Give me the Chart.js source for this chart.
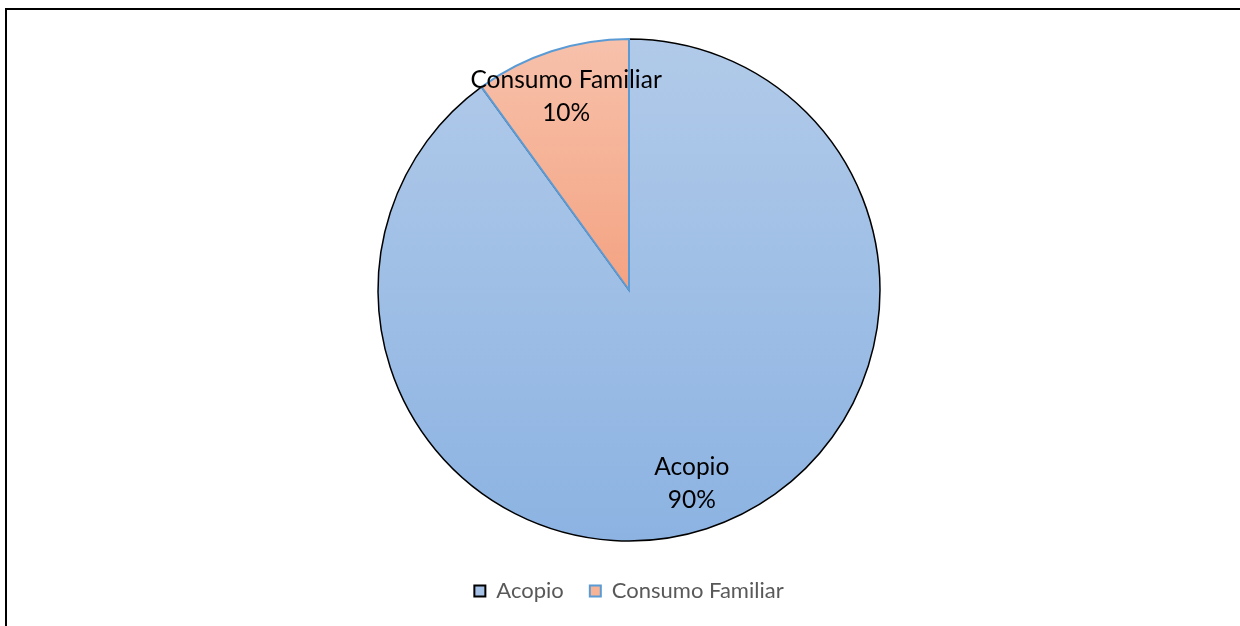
<!DOCTYPE html>
<html>
<head>
<meta charset="utf-8">
<script src="https://cdn.jsdelivr.net/npm/chart.js@4/dist/chart.umd.min.js"></script>
<style>
  html, body { margin: 0; padding: 0; background: #fff; overflow: hidden; }
  #wrap { position: relative; width: 1240px; height: 626px; }
  #frame { position: absolute; left: 5px; top: 8px; width: 1300px; height: 700px; border: 2px solid #000; box-sizing: border-box; pointer-events: none; }
  canvas { position: absolute; left: 0; top: 0; }
</style>
</head>
<body>
<div id="wrap">
  <canvas id="c" width="1240" height="626"></canvas>
  <div id="frame"></div>
</div>
<script>
const categories = ['Acopio', 'Consumo Familiar'];
const values = [90, 10];
const percentLabels = ['90%', '10%'];

const sliceTop = ['#B1CAE9', '#F7C1AB'];
const sliceBottom = ['#8CB3E2', '#F4A382'];
const sliceBorder = ['#000000', '#5B9BD5'];
const sliceBorderWidth = [1.5, 2];
const legendFill = ['#A5C2E6', '#F6B396'];
const RADIUS = 251;

function sliceGradient(ctx) {
  const chart = ctx.chart;
  const ca = chart.chartArea;
  if (!ca) return sliceTop[ctx.dataIndex];
  const cy = (ca.top + ca.bottom) / 2;
  const y0 = cy - RADIUS;
  const y1 = ctx.dataIndex === 0 ? cy + RADIUS : cy;
  const g = chart.ctx.createLinearGradient(0, y0, 0, y1);
  g.addColorStop(0, sliceTop[ctx.dataIndex]);
  g.addColorStop(1, sliceBottom[ctx.dataIndex]);
  return g;
}

const labelPlugin = {
  id: 'sliceLabels',
  afterDatasetsDraw(chart) {
    const ctx = chart.ctx;
    const meta = chart.getDatasetMeta(0);
    ctx.save();
    ctx.fillStyle = '#000';
    ctx.font = '24.5px Lato';
    ctx.textAlign = 'center';
    ctx.textBaseline = 'middle';
    meta.data.forEach((el, i) => {
      const p = el.getProps(['x', 'y', 'startAngle', 'endAngle', 'outerRadius'], true);
      const mid = (p.startAngle + p.endAngle) / 2;
      const r = p.outerRadius * 0.81;
      const x = p.x + Math.cos(mid) * r;
      const y = p.y + Math.sin(mid) * r;
      ctx.fillText(categories[i], x, y - 16.5);
      ctx.fillText(percentLabels[i], x, y + 16.5);
    });
    ctx.restore();
  }
};

new Chart(document.getElementById('c'), {
  type: 'pie',
  data: {
    labels: categories,
    datasets: [{
      data: values,
      backgroundColor: sliceGradient,
      borderColor: sliceBorder,
      borderWidth: sliceBorderWidth,
      radius: RADIUS,
      borderJoinStyle: 'miter'
    }]
  },
  options: {
    responsive: false,
    animation: false,
    layout: { padding: { top: 26, bottom: 14, left: 18, right: 0 } },
    plugins: {
      tooltip: { enabled: false },
      legend: {
        position: 'bottom',
        labels: {
          padding: 26,
          boxWidth: 11,
          boxHeight: 11,
          color: '#595959',
          font: { family: 'Lato', size: 22 },
          generateLabels(chart) {
            return categories.map((c, i) => ({
              text: c,
              fillStyle: legendFill[i],
              strokeStyle: sliceBorder[i],
              lineWidth: 2,
              fontColor: '#595959',
              hidden: false,
              index: i
            }));
          }
        }
      }
    }
  },
  plugins: [labelPlugin]
});
</script>
</body>
</html>
